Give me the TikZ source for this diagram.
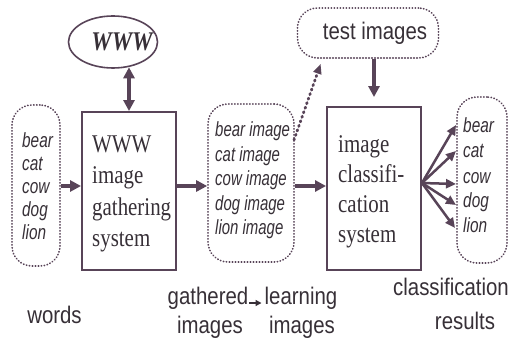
\documentclass[tikz,border=0pt]{standalone}
\usepackage{fontspec}
\usepackage{graphicx}
\setmainfont{Liberation Serif}
\setsansfont{Liberation Sans}
\usetikzlibrary{arrows.meta,shapes.geometric}
\definecolor{ink}{RGB}{88,68,88}
\definecolor{txt}{RGB}{55,48,55}
\newcommand{\sqz}[2][0.85]{\scalebox{#1}[1]{#2}}
\begin{document}
\begin{tikzpicture}[x=1pt,y=-1pt,
  every node/.style={text=txt, inner sep=0pt},
  sysbox/.style={draw=ink, line width=1.9pt},
  dotbox/.style={draw=ink, line width=1.7pt, dash pattern=on 0.4pt off 2.6pt, line cap=round, rounded corners=20pt},
  bigarr/.style={draw=ink, line width=3.4pt, -{Triangle[length=11pt,width=11pt]}},
  fanarr/.style={draw=ink, line width=2.5pt, -{Triangle[length=10pt,width=9pt]}},
  dotarr/.style={draw=ink, line width=2.8pt, dash pattern=on 1.2pt off 3.6pt, line cap=round, -{Triangle[length=10pt,width=8pt]}},
  thinarr/.style={draw=txt, line width=1.3pt, -{Triangle[length=6pt,width=6pt]}},
  listtxt/.style={anchor=west},
  systxt/.style={anchor=west},
  lab/.style={anchor=base, font=\sffamily\fontsize{24}{28}\selectfont}
]
\useasboundingbox[fill=white] (0,0) rectangle (511,339);

% WWW ellipse
\node[draw=ink, line width=1.6pt, ellipse, minimum width=89pt, minimum height=52pt] (www) at (113,42) {};
\node[font=\rmfamily\bfseries\itshape\fontsize{27}{30}\selectfont] (wwwtxt) at (122,42) {\sqz{WWW}};

% system boxes
\node[sysbox, minimum width=94pt, minimum height=158pt] (gather) at (129,191) {};
\node[systxt, font=\rmfamily\fontsize{25.5}{31.5}\selectfont] (gathertxt) at (92,193) {\sqz[0.82]{\begin{tabular}{@{}l@{}}WWW\\image\\gathering\\system\end{tabular}}};

\node[sysbox, minimum width=94pt, minimum height=163pt] (cls) at (374,188.5) {};
\node[systxt, font=\rmfamily\fontsize{25.5}{29.7}\selectfont] (clstxt) at (338,191.6) {\sqz[0.82]{\begin{tabular}{@{}l@{}}image\\classifi-\\cation\\system\end{tabular}}};

% dotted boxes
\node[dotbox, minimum width=48pt, minimum height=161pt] (wbox) at (36,185.5) {};
\node[listtxt, font=\sffamily\itshape\fontsize{20.5}{23.2}\selectfont] (wtxt) at (22,188.8) {\sqz[0.75]{\begin{tabular}{@{}l@{}}bear\\cat\\cow\\dog\\lion\end{tabular}}};

\node[dotbox, minimum width=86pt, minimum height=158pt] (gbox) at (251,183) {};
\node[listtxt, font=\sffamily\itshape\fontsize{20.5}{24.5}\selectfont] (gtxt) at (215,181.1) {\sqz[0.73]{\begin{tabular}{@{}l@{}}bear image\\cat image\\cow image\\dog image\\lion image\end{tabular}}};

\node[dotbox, minimum width=50pt, minimum height=166pt] (rbox) at (482,180) {};
\node[listtxt, font=\sffamily\itshape\fontsize{20.5}{25}\selectfont] (rtxt) at (463,178) {\sqz[0.75]{\begin{tabular}{@{}l@{}}bear\\cat\\cow\\dog\\lion\end{tabular}}};

\node[dotbox, minimum width=141pt, minimum height=50pt] (test) at (368,33) {};
\node[font=\sffamily\fontsize{24}{28}\selectfont] (testtxt) at (375,33) {\sqz{test images}};

% connectors
\draw[bigarr, {Triangle[length=11pt,width=11pt]}-{Triangle[length=11pt,width=11pt]}, shorten <=-1.5pt]
  (www.south -| gather.north) -- (gather.north);
\draw[bigarr] ([yshift=-0.5pt]wbox.east) -- ([yshift=-0.5pt]wbox.east -| gather.west);
\draw[bigarr] ([yshift=5pt]gather.east) -- ([yshift=5pt]gather.east -| gbox.west);
\draw[bigarr] ([yshift=-3pt]gbox.east) -- ([yshift=-3pt]gbox.east -| cls.west);
\draw[bigarr, shorten >=9pt] (test.south -| cls.north) -- (cls.north);

\coordinate (dstart) at (294,140);
\draw[dotarr] (dstart) -- ([xshift=24pt,yshift=-5pt]test.south west);

\coordinate (fo) at ([yshift=5.5pt]cls.east);
\coordinate (r1) at (456,125);
\coordinate (r2) at (456,151);
\coordinate (r3) at (456,184);
\coordinate (r4) at (456,205);
\coordinate (r5) at (455,228);
\foreach \t in {r1,r2,r3,r4,r5} \draw[fanarr] (fo) -- (\t);

% bottom labels
\node[lab] (words) at (54.5,323) {\sqz{words}};
\node[lab] (gath1) at (208,304) {\sqz{gathered}};
\node[lab] (gath2) at (210,333) {\sqz{images}};
\node[lab] (learn1) at (301,304) {\sqz{learning}};
\node[lab] (learn2) at (302,333) {\sqz{images}};
\node[lab] (res1) at (451,295) {\sqz{classification}};
\node[lab] (res2) at (465,329) {\sqz{results}};
\draw[thinarr, shorten >=3pt, shorten <=1pt] ([yshift=1pt]gath1.base east) -- ([yshift=1pt]learn1.base west);
\end{tikzpicture}
\end{document}
